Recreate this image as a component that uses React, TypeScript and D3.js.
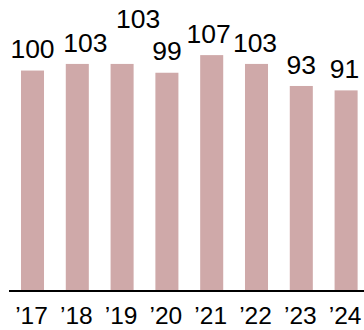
import React from "react";
import * as d3 from "d3";

const categories = ["'17", "'18", "'19", "'20", "'21", "'22", "'23", "'24"];
const tickLabels = ["’17", "’18", "’19", "’20", "’21", "’22", "’23", "’24"];
const values = [100, 103, 103, 99, 107, 103, 93, 91];

// label nudges (layout only)
const labelDx = [0, 8, 16, 0, -3, -1.5, 0, -1.5];
const labelLift = [0, 0, 23.4, 0, 0, 0, 0, 0];

const W = 364;
const H = 330;

export default function App() {
  const x = d3
    .scaleBand<string>()
    .domain(categories)
    .range([10.1, 368.5])
    .paddingInner(0.486)
    .paddingOuter(0.243);
  const y = d3.scaleLinear().domain([0, 132]).range([291, 0]);
  const font = "'Liberation Sans', Arial, sans-serif";
  return (
    <svg
      width={W}
      height={H}
      style={{ position: "absolute", left: 0, top: 0 }}
    >
      <rect x={0} y={0} width={W} height={H} fill="#fff" />
      {categories.map((c, i) => (
        <rect
          key={c}
          x={x(c)}
          y={y(values[i])}
          width={x.bandwidth()}
          height={y(0) - y(values[i])}
          fill="#cfa9a9"
        />
      ))}
      {categories.map((c, i) => (
        <text
          key={"v" + c}
          x={(x(c) as number) + x.bandwidth() / 2 + labelDx[i]}
          y={y(values[i]) - 12.3 - labelLift[i]}
          textAnchor="middle"
          fontFamily={font}
          fontSize={26.5}
          fill="#000"
        >
          {values[i]}
        </text>
      ))}
      <line x1={9} x2={364} y1={291} y2={291} stroke="#000" strokeWidth={2} />
      {categories.map((c, i) => (
        <text
          key={"t" + c}
          x={(x(c) as number) + x.bandwidth() / 2 - 1}
          y={323.5}
          textAnchor="middle"
          fontFamily={font}
          fontSize={24.5}
          fill="#000"
        >
          {tickLabels[i]}
        </text>
      ))}
    </svg>
  );
}
